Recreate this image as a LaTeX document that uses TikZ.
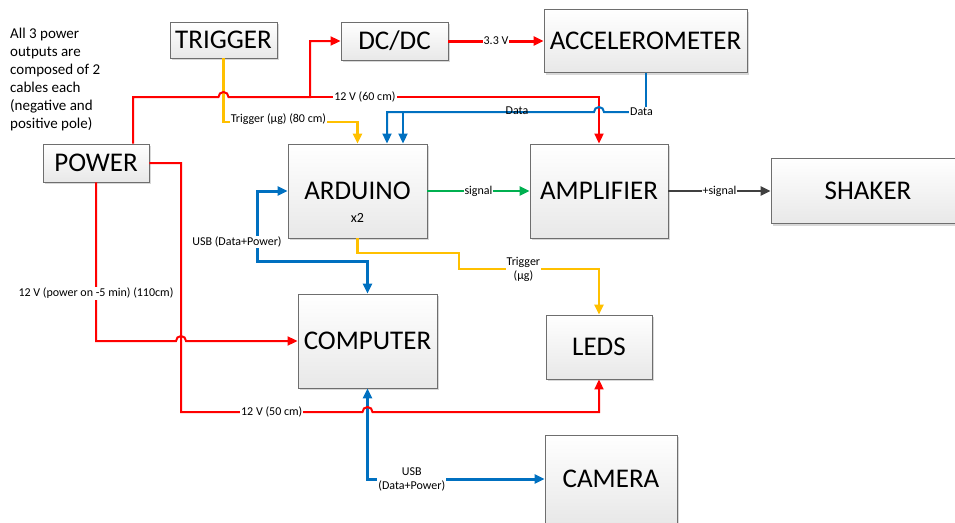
\documentclass[tikz,border=0pt]{standalone}
\usepackage{fontspec}
\setmainfont{Carlito}
\usetikzlibrary{arrows.meta,shadows,calc}
\definecolor{wirered}{RGB}{255,0,0}
\definecolor{wireblue}{RGB}{0,112,192}
\definecolor{wireyellow}{RGB}{255,192,0}
\definecolor{wiregreen}{RGB}{0,176,80}
\definecolor{wiredark}{RGB}{64,64,64}
\definecolor{boxedge}{RGB}{110,110,110}

\begin{document}
\begin{tikzpicture}[x=1pt,y=-1pt,
  >={Triangle[length=10pt,width=9pt]},
  blk/.style={draw=boxedge,line width=.9pt,top color=white,bottom color=black!9,
    drop shadow={shadow xshift=2pt,shadow yshift=-2pt,fill=black!30,opacity=.5},
    font=\fontsize{27}{32}\selectfont,inner sep=0pt},
  lbl/.style={fill=white,inner sep=1pt,font=\fontsize{12}{14}\selectfont},
  redwire/.style={draw=wirered,line width=2pt},
  datawire/.style={draw=wireblue,line width=2pt},
  usbwire/.style={draw=wireblue,line width=3pt},
  trigwire/.style={draw=wireyellow,line width=2.5pt},
  sigwire/.style={draw=wiregreen,line width=2.5pt},
  drvwire/.style={draw=wiredark,line width=2.5pt}]
\path[use as bounding box] (0,0) rectangle (955,522);
\node[blk,minimum width=107pt,minimum height=36pt] (trig) at (223.5,40) {TRIGGER};
\node[blk,minimum width=107pt,minimum height=38pt] (dcdc) at (394.5,41) {DC/DC};
\node[blk,minimum width=203pt,minimum height=63pt] (accel) at (645.5,41) {ACCELEROMETER};
\node[blk,minimum width=106pt,minimum height=38pt] (power) at (96,163) {POWER};
\node[blk,minimum width=139pt,minimum height=94pt] (ard) at (357.5,191) {ARDUINO};
\node[font=\fontsize{14}{16}\selectfont] (ardn) at (357.5,218) {x2};
\node[blk,minimum width=138pt,minimum height=94pt] (amp) at (599,191) {AMPLIFIER};
\node[blk,minimum width=194pt,minimum height=65pt] (shaker) at (868,191) {SHAKER};
\node[blk,minimum width=139pt,minimum height=94pt] (comp) at (367.5,341) {COMPUTER};
\node[blk,minimum width=106pt,minimum height=64pt] (leds) at (599,347) {LEDS};
\node[blk,minimum width=132pt,minimum height=88pt] (cam) at (611,479) {CAMERA};
\node[anchor=north west,align=left,inner sep=0pt,font=\fontsize{15}{18}\selectfont] (note) at (10,28)
  {All 3 power\\outputs are\\composed of 2\\cables each\\(negative and\\positive pole)};

\coordinate (pwTop) at (133,97);
\coordinate (pwJ) at (310,97);
\coordinate (trgB) at (223.5,122);
\coordinate (dat) at (645.5,112);
\coordinate (datA) at (387,112);
\coordinate (datB) at (403,112);
\coordinate (usbA) at (257,261);
\coordinate (pwC) at (96,341);
\coordinate (pwL) at (181,412);
\coordinate (ledA) at (459,253);
\coordinate (ledB) at (459,269);

\draw[trigwire,->] (trig.south) -- (trgB) -- node[lbl,pos=.41,yshift=3pt]{Trigger (µg) (80 cm)} (trgB -| ard) -- (ard.north);
\draw[redwire,->] (pwTop |- power.north) -- (pwTop) -- ($(pwTop -| trig)+(-5,0)$) arc[start angle=180,end angle=360,radius=5] -- (pwJ) |- (dcdc.west);
\draw[redwire,->] (pwJ) -- node[lbl,pos=.19]{12 V (60 cm)} (pwJ -| amp) -- (amp.north);
\draw[redwire,line width=3pt,->] (dcdc) -- node[lbl]{3.3 V} (accel);

\draw[datawire,->] (dat) -- ($(dat -| amp)+(5,0)$) arc[start angle=0,end angle=-180,radius=5] -- (datA) -- (datA |- ard.north);
\draw[datawire,->] (datB) -- (datB |- ard.north);
\draw[datawire] (accel.south) -- (dat) node[lbl,xshift=-4pt]{Data};
\node[inner sep=1pt,font=\fontsize{12}{14}\selectfont] (datlbl) at (517,111) {Data};

\draw[sigwire,->] (ard) -- node[lbl]{signal} (amp);
\draw[drvwire,->] (amp) -- node[lbl]{+signal} (shaker);

\draw[usbwire,<->] (ard.west) -| (usbA) -| (comp.north);
\node[lbl] (usbtxt) at (237,242) {USB (Data+Power)};
\draw[usbwire,<->] (comp.south) |- node[lbl,pos=.625,align=center]{USB\\(Data+Power)} (cam.west);

\draw[trigwire,->] (ard.south) |- (ledA) -- (ledB) -| node[lbl,pos=.23,align=center]{Trigger\\(µg)} (leds.north);

\draw[redwire,->] (power.east) -| (pwL) -- node[lbl]{12 V (50 cm)} ($(pwL -| comp)+(-5,0)$) arc[start angle=180,end angle=360,radius=5] -- (pwL -| leds) -- (leds.south);
\draw[redwire,->] (power.south) -- node[lbl,pos=.7]{12 V (power on -5 min) (110cm)} (pwC) -- ($(pwC -| pwL)+(-5,0)$) arc[start angle=180,end angle=360,radius=5] -- (comp.west);
\end{tikzpicture}
\end{document}
